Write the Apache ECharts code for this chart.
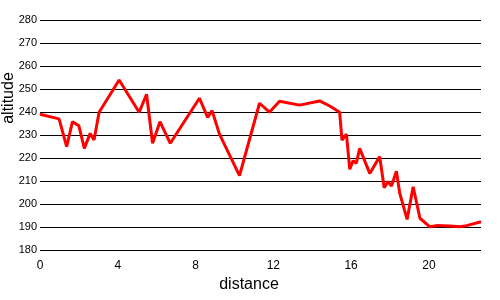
<!DOCTYPE html>
<html>
<head>
<meta charset="utf-8">
<script src="https://cdn.jsdelivr.net/npm/echarts@6/dist/echarts.min.js"></script>
<style>html,body{margin:0;padding:0;background:#fff}#c{width:500px;height:300px}</style>
</head>
<body>
<div id="c"></div>
<script>
var distance = [0, 0.98, 1.37, 1.67, 2.0, 2.28, 2.58, 2.78, 3.04, 4.07, 5.1, 5.48, 5.79, 6.17, 6.70, 8.2, 8.62, 8.85, 9.23, 10.26, 11.29, 11.8, 12.32, 13.35, 14.38, 14.9, 15.41, 15.53, 15.76, 15.93, 16.1, 16.27, 16.44, 16.96, 17.47, 17.7, 17.9, 18.08, 18.33, 18.5, 18.88, 19.19, 19.54, 20.05, 20.4, 21.08, 21.6, 21.94, 22.68];
var altitude = [239.0, 237.0, 224.9, 235.8, 234.0, 224.2, 230.7, 227.8, 239.9, 253.9, 239.9, 247.7, 226.4, 235.8, 226.4, 246.0, 237.7, 240.6, 230.4, 212.3, 243.8, 239.9, 244.7, 243.0, 244.8, 242.6, 239.9, 227.8, 230.4, 215.1, 218.8, 217.7, 224.2, 213.3, 220.6, 207.1, 209.7, 207.8, 214.3, 204.7, 193.3, 207.5, 193.8, 190.1, 190.6, 190.4, 190.1, 190.6, 192.3];
var xTitle = 'distance';
var yTitle = 'altitude';
var yMin = 180, yMax = 280, yStep = 10;
var xMin = 0, xStep = 4;

var pts = distance.map(function (d, i) { return [d, altitude[i]]; });
var chart = echarts.init(document.getElementById('c'), null, {renderer: 'canvas'});
chart.setOption({
  animation: false,
  backgroundColor: '#fff',
  grid: {left: 40, right: 19, top: 20, bottom: 50, containLabel: false},
  xAxis: {
    type: 'value', min: xMin, max: 'dataMax', interval: xStep,
    axisLine: {show: false}, axisTick: {show: false}, splitLine: {show: false},
    axisLabel: {showMaxLabel: false, color: '#000', fontSize: 12, margin: 10, fontFamily: 'Liberation Sans, Arial, sans-serif'}
  },
  yAxis: {
    type: 'value', min: yMin, max: yMax, interval: yStep,
    axisLine: {show: false}, axisTick: {show: false},
    splitLine: {show: true, lineStyle: {color: '#000', width: 1}},
    axisLabel: {color: '#000', fontSize: 11, margin: 3, fontFamily: 'Liberation Sans, Arial, sans-serif'}
  },
  graphic: [
    {type: 'text', left: 'center', x: 0, style: {text: xTitle, fontSize: 16, fill: '#000', fontFamily: 'Liberation Sans, Arial, sans-serif', x: 249, y: 285, align: 'center', verticalAlign: 'middle'}, left: null},
    {type: 'text', x: 9, y: 98, rotation: Math.PI / 2, style: {text: yTitle, fontSize: 16, fill: '#000', fontFamily: 'Liberation Sans, Arial, sans-serif', align: 'center', verticalAlign: 'middle'}}
  ],
  series: [{
    type: 'line', data: pts, showSymbol: false, smooth: false,
    lineStyle: {color: '#ff0000', width: 3}, itemStyle: {color: '#ff0000'}
  }]
});
</script>
</body>
</html>
